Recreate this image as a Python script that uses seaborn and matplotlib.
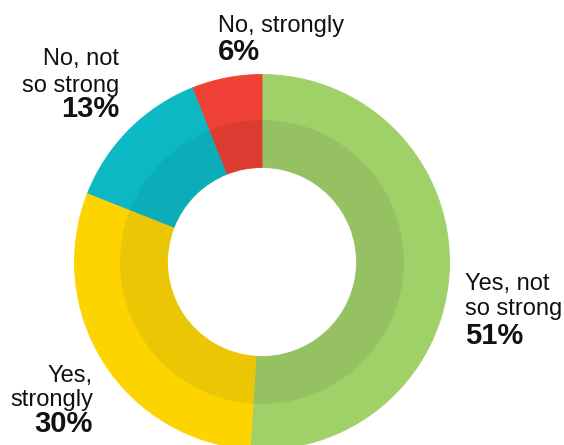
import matplotlib
matplotlib.use("Agg")
import matplotlib.pyplot as plt
import seaborn as sns

# ---- data ----
categories = ["Yes, not so strong", "Yes, strongly", "No, not so strong", "No, strongly"]
values = [51, 30, 13, 6]
label_lines = [["Yes, not", "so strong"], ["Yes,", "strongly"], ["No, not", "so strong"], ["No, strongly"]]

# ---- styles ----
outer_colors = sns.color_palette(["#A0D068", "#FDD400", "#0DB8C5", "#EF4136"])
inner_colors = sns.color_palette(["#96C162", "#EBC605", "#0BADB9", "#DC3B32"])

sns.set_theme(style="white")
plt.rcParams["font.family"] = ["Liberation Sans", "DejaVu Sans"]

W, H = 564, 445
fig = plt.figure(figsize=(W / 100, H / 100), dpi=100)
ax = fig.add_axes([0, 0, 1, 1])
ax.set_xlim(0, W)
ax.set_ylim(0, H)
ax.set_aspect("equal")
ax.axis("off")

cx, cy = 262, H - 262
R_out, R_mid, R_in = 187.5, 141.5, 94.5

w1, _ = ax.pie(values, colors=outer_colors, startangle=90, counterclock=False,
               radius=R_out, center=(cx, cy), frame=True,
               wedgeprops=dict(width=R_out - R_mid, linewidth=0))
w2, _ = ax.pie(values, colors=inner_colors, startangle=90, counterclock=False,
               radius=R_mid, center=(cx, cy), frame=True,
               wedgeprops=dict(width=R_mid - R_in, linewidth=0))
for w in list(w1) + list(w2):
    w.set_edgecolor(w.get_facecolor())
    w.set_linewidth(0.6)
ax.set_xlim(0, W)
ax.set_ylim(0, H)
ax.axis("off")

# label layout: (x, alignment, baselines for each line..., percent baseline)
layout = [
    (465, "left", [290, 315], 344),
    (93, "right", [382, 406], 432),
    (119, "right", [65, 92], 117),
    (218, "left", [32], 60),
]
for lines, val, (x, ha, bls, pbl) in zip(label_lines, values, layout):
    for txt, bl in zip(lines, bls):
        ax.text(x, H - bl, txt, ha=ha, va="baseline", fontsize=17, color="#111111")
    ax.text(x, H - pbl, f"{val}%", ha=ha, va="baseline", fontsize=21,
            fontweight="bold", color="#111111")

fig.savefig("out.png", dpi=100)
